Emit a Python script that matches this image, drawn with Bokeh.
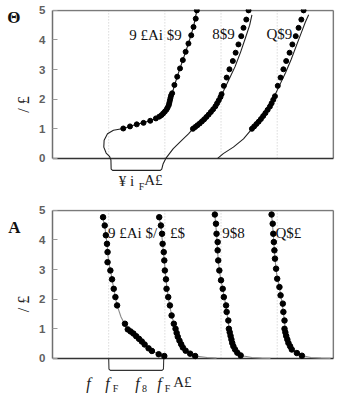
from bokeh.plotting import figure
from bokeh.models import FixedTicker, Range1d, LinearAxis
from bokeh.layouts import column
from bokeh.core.properties import value
from bokeh.embed import file_html
from bokeh.resources import INLINE

# ---------------- data ----------------
y_ticks = [0, 1, 2, 3, 4, 5]
grid_x = [1, 2, 3, 4]

# top panel (Θ): three curves, dots + solid line
t1_dot_x = [1.26, 1.38, 1.50, 1.62, 1.74, 1.84, 1.90, 1.94, 1.97, 2.00, 2.03, 2.05, 2.07, 2.08, 2.09, 2.10, 2.11, 2.13, 2.17, 2.22, 2.27, 2.32, 2.37, 2.42, 2.47, 2.51, 2.55, 2.57]
t1_dot_y = [1.01, 1.08, 1.15, 1.20, 1.27, 1.35, 1.41, 1.46, 1.52, 1.58, 1.65, 1.72, 1.80, 1.88, 1.96, 2.04, 2.12, 2.20, 2.48, 2.76, 3.04, 3.32, 3.60, 3.88, 4.16, 4.44, 4.72, 5.00]
t1_line_x = [1.04, 1.014, 0.955, 0.913, 0.919, 0.979, 1.085, 1.26, 1.50, 1.74, 1.90, 2.00, 2.07, 2.10, 2.13, 2.22, 2.32, 2.42, 2.51, 2.57]
t1_line_y = [-0.05, 0.07, 0.18, 0.38, 0.61, 0.83, 0.95, 1.01, 1.15, 1.27, 1.41, 1.58, 1.80, 2.04, 2.20, 2.76, 3.32, 3.88, 4.44, 5.00]

t2_dot_x = [2.50, 2.54, 2.58, 2.62, 2.66, 2.70, 2.74, 2.78, 2.82, 2.86, 2.90, 2.93, 2.96, 2.99, 3.01, 3.05, 3.10, 3.15, 3.21, 3.26, 3.31, 3.36, 3.40, 3.45, 3.49]
t2_dot_y = [1.00, 1.06, 1.12, 1.18, 1.25, 1.32, 1.40, 1.48, 1.57, 1.66, 1.76, 1.86, 1.96, 2.07, 2.17, 2.45, 2.73, 3.01, 3.29, 3.57, 3.85, 4.13, 4.41, 4.69, 5.00]
t2_line_x = [2.017, 2.15, 2.30, 2.42, 2.50, 2.63, 2.75, 2.86, 2.96, 3.05, 3.15, 3.25, 3.35, 3.44, 3.51, 3.55]
t2_line_y = [0.00, 0.33, 0.61, 0.83, 1.00, 1.23, 1.45, 1.73, 2.00, 2.30, 2.70, 3.10, 3.60, 4.10, 4.50, 4.85]

t3_dot_x = [3.55, 3.59, 3.63, 3.67, 3.71, 3.75, 3.79, 3.83, 3.87, 3.90, 3.93, 3.96, 4.01, 4.06, 4.11, 4.16, 4.22, 4.27, 4.33, 4.38, 4.43, 4.47]
t3_dot_y = [1.00, 1.08, 1.16, 1.24, 1.33, 1.43, 1.53, 1.64, 1.75, 1.86, 1.98, 2.10, 2.45, 2.73, 3.01, 3.29, 3.57, 3.85, 4.13, 4.41, 4.69, 5.00]
t3_line_x = [2.94, 3.04, 3.22, 3.40, 3.55, 3.67, 3.76, 3.86, 3.95, 4.05, 4.15, 4.25, 4.35, 4.44, 4.50, 4.56]
t3_line_y = [0.00, 0.16, 0.38, 0.66, 1.00, 1.28, 1.55, 1.80, 2.10, 2.50, 2.90, 3.35, 3.85, 4.30, 4.60, 4.85]

top_bracket_x = [1.04, 1.044, 1.07, 1.92, 1.945, 1.97, 2.017]
top_bracket_y = [-0.05, -0.36, -0.405, -0.405, -0.36, -0.18, 0.00]

# bottom panel (A): four curves
b1_dot_x = [0.90, 0.93, 0.95, 0.97, 0.98, 0.98, 1.03, 1.06, 1.09, 1.12, 1.15, 1.29, 1.34, 1.39, 1.44, 1.49, 1.54, 1.59, 1.64, 1.71, 1.77, 1.89, 1.99]
b1_dot_y = [4.77, 4.49, 4.16, 3.87, 3.59, 3.25, 2.97, 2.67, 2.35, 2.07, 1.79, 1.17, 0.98, 0.91, 0.84, 0.75, 0.66, 0.57, 0.47, 0.34, 0.25, 0.14, 0.08]
b1_line_x = [0.88, 0.93, 0.97, 1.00, 1.04, 1.09, 1.15, 1.22, 1.30, 1.40, 1.50, 1.62, 1.77, 1.89, 2.00]
b1_line_y = [4.83, 4.49, 3.87, 3.25, 2.90, 2.35, 1.79, 1.40, 1.10, 0.91, 0.72, 0.50, 0.26, 0.14, 0.06]

b2_dot_x = [1.90, 1.93, 1.95, 1.96, 1.98, 1.99, 2.00, 2.02, 2.03, 2.06, 2.09, 2.12, 2.16, 2.19, 2.21, 2.23, 2.26, 2.29, 2.32, 2.37, 2.45, 2.54]
b2_dot_y = [4.77, 4.49, 4.21, 3.87, 3.59, 3.31, 2.97, 2.67, 2.35, 2.07, 1.79, 1.45, 1.17, 1.00, 0.86, 0.73, 0.60, 0.48, 0.37, 0.26, 0.16, 0.08]
b2_line_x = [1.89, 1.93, 1.96, 1.99, 2.02, 2.06, 2.10, 2.15, 2.20, 2.26, 2.33, 2.45, 2.58, 2.75, 2.92]
b2_line_y = [4.83, 4.49, 3.87, 3.31, 2.67, 2.07, 1.65, 1.25, 0.95, 0.61, 0.35, 0.16, 0.07, 0.03, 0.01]

b3_dot_x = [2.89, 2.91, 2.92, 2.94, 2.94, 2.95, 2.97, 3.00, 3.03, 3.05, 3.09, 3.10, 3.13, 3.14, 3.155, 3.17, 3.185, 3.20, 3.22, 3.25, 3.29, 3.35]
b3_dot_y = [4.86, 4.55, 4.21, 3.93, 3.65, 3.31, 2.97, 2.64, 2.35, 2.07, 1.79, 1.57, 1.28, 1.00, 0.88, 0.76, 0.64, 0.52, 0.41, 0.30, 0.19, 0.10]
b3_line_x = [2.89, 2.92, 2.95, 2.98, 3.03, 3.08, 3.12, 3.15, 3.18, 3.22, 3.29, 3.40, 3.55, 3.72, 3.88]
b3_line_y = [4.86, 4.21, 3.31, 2.85, 2.35, 1.85, 1.35, 0.92, 0.66, 0.41, 0.19, 0.08, 0.03, 0.01, 0.00]

b4_dot_x = [3.90, 3.92, 3.93, 3.94, 3.95, 3.96, 3.98, 4.00, 4.04, 4.06, 4.10, 4.11, 4.13, 4.13, 4.145, 4.16, 4.18, 4.20, 4.23, 4.26, 4.35, 4.44]
b4_dot_y = [4.86, 4.55, 4.21, 3.93, 3.65, 3.37, 3.03, 2.69, 2.41, 2.13, 1.85, 1.57, 1.28, 1.00, 0.88, 0.76, 0.64, 0.52, 0.41, 0.30, 0.18, 0.09]
b4_line_x = [3.90, 3.93, 3.96, 3.99, 4.04, 4.08, 4.12, 4.15, 4.18, 4.23, 4.32, 4.45, 4.60, 4.78, 4.95]
b4_line_y = [4.86, 4.21, 3.37, 2.85, 2.41, 1.95, 1.40, 0.92, 0.66, 0.45, 0.22, 0.09, 0.03, 0.01, 0.00]

bot_bracket_x = [1.00, 1.005, 1.03, 1.95, 1.975, 1.98]
bot_bracket_y = [0.00, -0.36, -0.405, -0.405, -0.36, 0.00]

# texts
top_texts = ["9 £Ai $9", "8$9", "Q$9"]
bot_texts = ["9 £Ai $/", "£$", "9$8", "Q$£"]
axis_text = "/ £"

# ---------------- styling / layout ----------------
PX_PER_Y = 29.6
PX_PER_X = 56.2
X_END = 5.02
SERIF = "Liberation Serif"


def dx(px):
    return (px - 52) / PX_PER_X


def make_fig(height, border_top, panel_label, panel_label_y):
    frame_h = height - border_top
    y_end = 5.03
    y_start = y_end - frame_h / PX_PER_Y
    p = figure(width=337, height=height, output_backend="svg", toolbar_location=None,
               x_range=Range1d(0, X_END), y_range=Range1d(y_start, y_end),
               x_axis_location=None, min_border_left=52, min_border_right=3,
               min_border_top=border_top, min_border_bottom=0)
    p.outline_line_color = None
    p.xgrid.visible = False
    p.ygrid.visible = False
    ax = p.yaxis[0]
    ax.ticker = FixedTicker(ticks=y_ticks)
    ax.bounds = (0, 5)
    ax.axis_line_color = "#6f6f6f"
    ax.axis_line_width = 1.5
    ax.major_tick_in = 5
    ax.major_tick_out = 0
    ax.major_tick_line_color = "#9a9a9a"
    ax.minor_tick_line_color = None
    ax.major_label_standoff = 7
    ax.major_label_text_font = "Liberation Sans"
    ax.major_label_text_font_size = "11.5px"
    ax.major_label_text_font_style = "bold"
    ax.major_label_text_color = "#606060"
    ax.axis_label = axis_text
    ax.axis_label_text_font = SERIF
    ax.axis_label_text_font_style = "normal"
    ax.axis_label_text_font_size = "16px"
    ax.axis_label_standoff = 4
    ax.axis_label_text_color = "#222222"
    # panel label as an outer left axis with one tick
    pa = LinearAxis(ticker=FixedTicker(ticks=[panel_label_y]),
                    major_label_overrides={panel_label_y: panel_label})
    pa.axis_line_color = None
    pa.major_tick_line_color = None
    pa.minor_tick_line_color = None
    pa.major_tick_in = 0
    pa.major_tick_out = 0
    pa.major_label_standoff = -8
    pa.major_label_text_font = SERIF
    pa.major_label_text_font_size = "17px"
    pa.major_label_text_font_style = "bold"
    pa.major_label_text_color = "#111111"
    p.add_layout(pa, "left")
    # grid (dotted)
    p.segment(x0=grid_x, y0=[0] * len(grid_x), x1=grid_x, y1=[5] * len(grid_x),
              line_color="#c8c8c8", line_width=1, line_dash="1 2")
    # frame
    p.line([0, 5], [5, 5], line_color="#7a7a7a", line_width=1.5)
    p.line([5, 5], [0, 5], line_color="#7a7a7a", line_width=1.5)
    p.line([0, 5], [0, 0], line_color="#333333", line_width=1.5)
    return p


def py_to_y(py, y0_py):
    return (y0_py - py) / PX_PER_Y


# ---- top panel ----
p1 = make_fig(199, 9, "Θ", 4.75)
for lx, ly in [(t1_line_x, t1_line_y), (t2_line_x, t2_line_y), (t3_line_x, t3_line_y)]:
    p1.line(lx, ly, line_color="#222222", line_width=1.1)
p1.line(top_bracket_x, top_bracket_y, line_color="#222222", line_width=1.1)
for ddx, ddy in [(t1_dot_x, t1_dot_y), (t2_dot_x, t2_dot_y), (t3_dot_x, t3_dot_y)]:
    p1.scatter(ddx, ddy, size=5, color="black")
p1.text(x=[dx(155), dx(223), dx(279)],
        y=[py_to_y(35, 158), py_to_y(34, 158), py_to_y(34, 158)],
        text=top_texts, text_font=value(SERIF), text_font_size="15px",
        text_align="center", text_baseline="middle", text_color="#111111")
p1.text(x=[dx(126)], y=[py_to_y(181, 158)], text=["¥ i"], text_font=value(SERIF),
        text_font_size="15px", text_align="center", text_baseline="middle", text_color="#222222")
p1.text(x=[dx(141)], y=[py_to_y(186, 158)], text=["F"], text_font=value(SERIF),
        text_font_size="10px", text_align="center", text_baseline="middle", text_color="#222222")
p1.text(x=[dx(153)], y=[py_to_y(180, 158)], text=["A£"], text_font=value(SERIF),
        text_font_size="15px", text_align="center", text_baseline="middle", text_color="#222222")

# ---- bottom panel ----
Y0 = 358 - 199
p2 = make_fig(199, 10, "A", 4.43)
for lx, ly in [(b1_line_x, b1_line_y), (b2_line_x, b2_line_y), (b3_line_x, b3_line_y), (b4_line_x, b4_line_y)]:
    p2.line(lx, ly, line_color="#8a8a8a", line_width=1.1)
p2.line(bot_bracket_x, bot_bracket_y, line_color="#333333", line_width=1.1)
for ddx, ddy in [(b1_dot_x, b1_dot_y), (b2_dot_x, b2_dot_y), (b3_dot_x, b3_dot_y), (b4_dot_x, b4_dot_y)]:
    p2.scatter(ddx, ddy, size=5.5, color="black")
p2.text(x=[dx(132), dx(177), dx(233), dx(288)],
        y=[py_to_y(233 - 199, Y0)] * 4,
        text=bot_texts, text_font=value(SERIF), text_font_size="15px",
        text_align="center", text_baseline="middle", text_color="#111111")
fx = [88, 107, 137, 159]
p2.text(x=[dx(v) for v in fx], y=[py_to_y(383 - 199, Y0)] * 4, text=["f"] * 4,
        text_font=value(SERIF), text_font_size="16px", text_font_style="italic",
        text_align="center", text_baseline="middle", text_color="#222222")
p2.text(x=[dx(v) for v in [115, 144, 167]], y=[py_to_y(388 - 199, Y0)] * 3,
        text=["F", "8", "F"], text_font=value(SERIF), text_font_size="10px",
        text_align="center", text_baseline="middle", text_color="#222222")
p2.text(x=[dx(182)], y=[py_to_y(382 - 199, Y0)], text=["A£"], text_font=value(SERIF),
        text_font_size="15px", text_align="center", text_baseline="middle", text_color="#222222")

layout = column(p1, p2, spacing=0)
open("out.html", "w").write(file_html(layout, INLINE))
